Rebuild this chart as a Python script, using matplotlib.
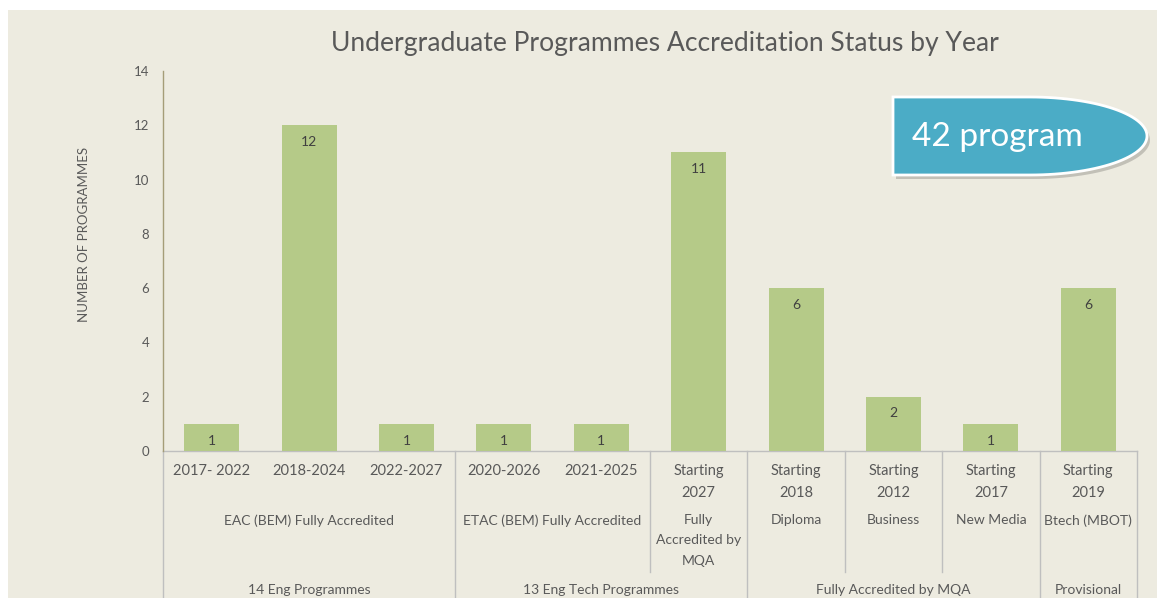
import matplotlib.pyplot as plt
import matplotlib.transforms as mtransforms
from matplotlib.patches import Rectangle, Polygon
from matplotlib.lines import Line2D
import numpy as np

# data
year_labels = ["2017- 2022", "2018-2024", "2022-2027", "2020-2026", "2021-2025",
               "Starting\n2027", "Starting\n2018", "Starting\n2012", "Starting\n2017", "Starting\n2019"]
counts = [1, 12, 1, 1, 1, 11, 6, 2, 1, 6]
status_labels = ["EAC (BEM) Fully Accredited", "ETAC (BEM) Fully Accredited",
                 "Fully\nAccredited by\nMQA", "Diploma", "Business", "New Media", "Btech (MBOT)"]
status_sizes = [3, 2, 1, 1, 1, 1, 1]
group_labels = ["14 Eng Programmes", "13 Eng Tech Programmes", "Fully Accredited by MQA", "Provisional"]
group_sizes = [3, 3, 3, 1]

W, H = 1157, 598
FONT = ["Lato", "DejaVu Sans"]
plt.rcParams['font.family'] = FONT
TXT = "#595959"
GRID = "#BFBFBF"

fig = plt.figure(figsize=(W / 100, H / 100), dpi=100)
fig.patch.set_facecolor("white")

def fx(x):
    return x / W

def fy(y):
    return 1 - y / H

# beige panel
fig.patches.append(Rectangle((fx(8), 0), 1 - fx(8), fy(10), transform=fig.transFigure,
                             facecolor="#EDEBE0", edgecolor="none", zorder=-5))

ax = fig.add_axes([fx(163), fy(451), fx(1137) - fx(163), fy(71) - fy(451)])
ax.set_facecolor("none")

x = np.arange(len(counts))
bars = ax.bar(x, counts, width=0.565, color="#B5CA88", zorder=2)
for xi, v in zip(x, counts):
    ax.annotate(str(v), (xi, v), xytext=(0, -12), textcoords="offset points",
                ha="center", va="center", fontsize=10, color="#404040")

ax.set_xlim(-0.5, len(counts) - 0.5)
ax.set_ylim(0, 14)
ax.set_yticks(range(0, 15, 2))
ax.tick_params(axis="y", length=0, labelsize=9.5, labelcolor=TXT, pad=10)
ax.set_xticks([])
for s in ["top", "right", "bottom"]:
    ax.spines[s].set_visible(False)
ax.spines["left"].set_color("#A59D78")
ax.spines["left"].set_linewidth(1)
ax.axhline(0, color=GRID, lw=1, zorder=1, clip_on=False)

ax.set_ylabel("NUMBER OF PROGRAMMES", fontsize=9.5, color=TXT)
ax.yaxis.set_label_coords(-0.075, 0.571)

fig.text(0.575, fy(44), "Undergraduate Programmes Accreditation Status by Year",
         ha="center", va="center", fontsize=19.1, color=TXT)

# multi-level category axis
tr = mtransforms.blended_transform_factory(ax.transData, fig.transFigure)
for xi, lab in zip(x, year_labels):
    ax.text(xi, fy(464), lab, transform=tr, ha="center", va="top", fontsize=10.5,
            color=TXT, linespacing=1.75)

edges2 = np.concatenate([[0], np.cumsum(status_sizes)]) - 0.5
for lab, a, b in zip(status_labels, edges2[:-1], edges2[1:]):
    ax.text((a + b) / 2, fy(514), lab, transform=tr, ha="center", va="top", fontsize=10,
            color=TXT, linespacing=1.85)

edges3 = np.concatenate([[0], np.cumsum(group_sizes)]) - 0.5
for lab, a, b in zip(group_labels, edges3[:-1], edges3[1:]):
    ax.text((a + b) / 2, fy(584), lab, transform=tr, ha="center", va="top", fontsize=10,
            color=TXT)

for e in edges2:
    bottom = fy(598) if np.isclose(edges3, e).any() else fy(572)
    ax.add_line(Line2D([e, e], [fy(451), bottom], transform=tr, color=GRID, lw=1,
                       clip_on=False))

# "42 program" callout
cx, cy, a, b = 1030, 136, 117, 39
t = np.linspace(np.pi / 2, -np.pi / 2, 60)
pts = [(893, cy - b)] + [(cx + a * np.cos(tt), cy - b * np.sin(tt)) for tt in t] + [(893, cy + b)]
shadow = [(fx(px + 3), fy(py + 4)) for px, py in pts]
shape = [(fx(px), fy(py)) for px, py in pts]
fig.patches.append(Polygon(shadow, closed=True, transform=fig.transFigure,
                           facecolor="#000000", alpha=0.18, edgecolor="none", zorder=3))
fig.patches.append(Polygon(shape, closed=True, transform=fig.transFigure,
                           facecolor="#4BACC6", edgecolor="white", lw=2, zorder=4))
fig.text(fx(912), fy(137), "42 program", ha="left", va="center", fontsize=24,
         color="white", zorder=5)

fig.savefig("out.png", dpi=100)
